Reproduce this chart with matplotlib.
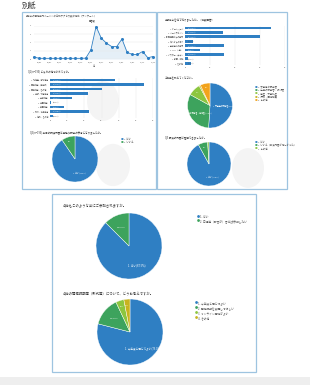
import numpy as np
import matplotlib.pyplot as plt
from matplotlib.patches import Rectangle, Circle

plt.rcParams['font.family'] = ['Noto Sans CJK JP', 'DejaVu Sans']

# ---- data ----
dates = ['10/01', '10/03', '10/05', '10/07', '10/09', '10/11', '10/13', '10/15',
         '10/17', '10/19', '10/21', '10/23', '10/25', '10/27', '10/29', '10/31',
         '11/02', '11/04', '11/06', '11/08', '11/10', '11/12', '11/14', '11/16']
daily = [0.25, 0.08, 0.08, 0.08, 0.08, 0.08, 0.08, 0.08, 0.08, 0.08, 0.1, 1.1,
         3.9, 2.5, 1.9, 1.5, 1.5, 2.4, 0.8, 0.55, 0.55, 0.9, 0.15, 0.3]

area_labels = ['1. 北海道・東北地方', '2. 関東地方（東京都）', '3. 関東地方（その他）',
               '4. 中部・北陸地方', '5. 近畿地方', '6. 中国地方', '7. 四国地方',
               '8. 九州・沖縄地方', '9. 海外・その他']
area_vals = [38, 55, 30, 22, 13, 0.6, 8, 23, 1.6]

know_labels = ['1. ホームページ', '2. メールマガジン', '3. 所属機関からの案内',
               '4. 知人からの紹介', '5. 学会等での案内', '6. SNS（X等）',
               '7. ポスター・チラシ', '8. 新聞・雑誌', '9. その他']
know_vals = [34.5, 15, 30, 3.3, 15.6, 6, 15.6, 1.3, 2.3]

q3_labels = ['1. はい', '2. いいえ']
q3_vals = [90.5, 9.5]

job_labels = ['1. 大学等の研究者', '2. 企業の研究者・技術者', '3. 学生・大学院生',
              '4. 行政・団体職員', '5. その他']
job_vals = [51, 32, 9, 1, 7]

q5_labels = ['1. はい', '2. いいえ（講演内容が難しかった）', '3. その他']
q5_vals = [92, 7, 1]

join_labels = ['1. はい', '2. 日程等（都合が）合えば参加したい']
join_vals = [87.5, 12.5]

plan_labels = ['1. 今年度と同じでよい', '2. 開催時期を変更してほしい',
               '3. オンライン開催がよい', '4. その他']
plan_vals = [79, 14, 4, 3]

blue = '#2f7fc3'
green = '#3da35d'
lime = '#8cc63f'
olive = '#c8b31e'
orange = '#f2a31b'
txt = '#555555'

W, H = 310, 385
fig = plt.figure(figsize=(W / 100, H / 100), dpi=100)
fig.patch.set_facecolor('white')


def ax_px(x0, y0, x1, y1):
    return fig.add_axes([x0 / W, 1 - y1 / H, (x1 - x0) / W, (y1 - y0) / H])


def ftext(x, y, s, **kw):
    fig.text(x / W, 1 - y / H, s, **kw)


def box(x0, y0, x1, y1):
    fig.add_artist(Rectangle((x0 / W, 1 - y1 / H), (x1 - x0) / W, (y1 - y0) / H,
                             transform=fig.transFigure, fill=False,
                             edgecolor='#9ec4e0', linewidth=0.9))


def ghost(cx, cy, r):
    # faint show-through circles from the back of the scanned page
    fig.add_artist(Circle((cx / W, 1 - cy / H), r / W, transform=fig.transFigure,
                          facecolor='#f4f4f4', edgecolor='none', zorder=-5))


def legend(x, y, dy, colors, labels, fs=1.7):
    for i, (c, l) in enumerate(zip(colors, labels)):
        ftext(x, y + i * dy, '●', color=c, fontsize=fs + 0.3, va='center')
        ftext(x + 3.2, y + i * dy, l, color=txt, fontsize=fs, va='center')


def pie(cx, cy, r, vals, colors, labels, fs=1.4):
    ax = ax_px(cx - r, cy - r, cx + r, cy + r)
    ax.set_facecolor('none')
    wedges, _ = ax.pie(vals, colors=colors, startangle=90, counterclock=False,
                       wedgeprops=dict(edgecolor='white', linewidth=0.3))
    ax.set_xlim(-1, 1)
    ax.set_ylim(-1, 1)
    ax.axis('off')
    tot = sum(vals)
    for w, v, l in zip(wedges, vals, labels):
        share = v / tot
        if share < 0.025:
            continue
        a = np.deg2rad((w.theta1 + w.theta2) / 2)
        if share > 0.3:
            rr, f, s = 0.62, fs, f'{l}({share * 100:.1f}%)'
        elif share > 0.1:
            rr, f, s = 0.62, fs * 0.9, f'{l[:2]}{share * 100:.1f}%'
        else:
            rr, f, s = 0.8, fs * 0.7, f'{share * 100:.1f}%'
        ax.text(rr * np.cos(a), rr * np.sin(a), s, color='white', fontsize=f,
                ha='center', va='center')
    return ax


# page header and background
ftext(22, 6, '別紙', fontsize=5.2, color='#333333', va='center')
fig.add_artist(Rectangle((0, 0), 1, 8 / H, transform=fig.transFigure,
                         facecolor='#eeeeee', edgecolor='none', zorder=-5))

ghost(103, 101, 16)
ghost(113, 165, 17)
ghost(248, 168, 16)

box(22, 12, 156, 189)
box(157, 12, 287, 189)
box(52, 194, 256, 372)

# ---- left panel: line chart ----
ftext(26, 16, '報告会の開催案内ページへの日別アクセス数の推移（アンケート）',
      fontsize=1.7, color=txt, va='center')
ftext(92, 20.5, '回答数', fontsize=1.7, color=txt, ha='center', va='center')
ax = ax_px(34, 25.7, 153, 59)
x = np.arange(len(daily))
ax.plot(x, daily, color=blue, linewidth=0.6, marker='o', markersize=1.2,
        clip_on=False)
ax.fill_between(x, daily, color=blue, alpha=0.12, linewidth=0)
ax.set_xlim(0, len(daily) - 1)
ax.set_ylim(0, 4)
ax.set_yticks([0, 1, 2, 3, 4])
ax.set_xticks(x[1::2])
ax.set_xticklabels(dates[1::2], fontsize=1.4, color=txt)
ax.tick_params(axis='y', labelsize=1.4, labelcolor=txt, length=0, pad=2)
ax.tick_params(axis='x', length=0, pad=1.5)
ax.grid(axis='y', color='#e6e6e6', linewidth=0.3)
for s in ax.spines.values():
    s.set_visible(False)
ax.set_facecolor('none')
ftext(94, 65.5, '日', fontsize=1.7, color=txt, ha='center', va='center')

# ---- left panel: bar chart ----
ftext(28, 71, 'Q1(n=190) どちらの地域からですか。', fontsize=1.8, color='#333333',
      va='center')
ax = ax_px(50, 77.75, 153, 118.25)
tot = sum(area_vals)
ax.barh(np.arange(len(area_vals)), area_vals, height=0.65, color=blue)
for i, v in enumerate(area_vals):
    ax.text(1.5, i, f'{v:.0f}({v / tot * 100:.1f}%)', color='white' if v > 5 else txt,
            fontsize=1.3, va='center')
ax.set_ylim(len(area_vals) - 0.5, -0.5)
ax.set_xlim(0, 60)
ax.set_yticks(np.arange(len(area_vals)))
ax.set_yticklabels(area_labels, fontsize=1.4, color=txt)
ax.set_xticks([0, 10, 20, 30, 40, 50, 60])
ax.tick_params(labelsize=1.4, labelcolor=txt, length=0, pad=1.5)
ax.grid(axis='x', color='#e6e6e6', linewidth=0.3)
ax.set_axisbelow(True)
for s in ax.spines.values():
    s.set_visible(False)
ax.set_facecolor('none')

# ---- left panel: pie ----
ftext(30, 132, 'Q3(n=190) 本日の講演内容は業務や研究の参考になりましたか。',
      fontsize=1.8, color='#333333', va='center')
pie(75, 159, 23, q3_vals, [blue, green], q3_labels)
legend(121, 139, 3.2, [blue, green], q3_labels)

# ---- right panel: bar chart ----
ftext(165, 20, '本報告会を何で知りましたか。（複数回答）', fontsize=1.8, color='#333333',
      va='center')
ax = ax_px(185, 25.8, 285, 65.4)
tot = sum(know_vals)
ax.barh(np.arange(len(know_vals)), know_vals, height=0.65, color=blue)
for i, v in enumerate(know_vals):
    ax.text(1.0, i, f'{v:.0f}({v / tot * 100:.1f}%)', color='white' if v > 5 else txt,
            fontsize=1.3, va='center')
ax.set_ylim(len(know_vals) - 0.5, -0.5)
ax.set_xlim(0, 40)
ax.set_yticks(np.arange(len(know_vals)))
ax.set_yticklabels(know_labels, fontsize=1.4, color=txt)
ax.set_xticks([0, 10, 20, 30, 40])
ax.tick_params(labelsize=1.4, labelcolor=txt, length=0, pad=1.5)
ax.grid(axis='x', color='#e6e6e6', linewidth=0.3)
ax.set_axisbelow(True)
for s in ax.spines.values():
    s.set_visible(False)
ax.set_facecolor('none')

# ---- right panel: pies ----
ftext(165, 78, 'ご職業を教えてください。', fontsize=1.8, color='#333333', va='center')
pie(210, 105.5, 22.5, job_vals, [blue, green, lime, olive, orange], job_labels)
legend(255, 87, 3.2, [blue, green, lime, olive, orange], job_labels)

ftext(165, 137, 'Q5 講演の内容は理解できましたか。', fontsize=1.8, color='#333333',
      va='center')
pie(209, 164, 22, q5_vals, [blue, green, lime], q5_labels)
legend(255, 142, 3.2, [blue, green, lime], q5_labels)

# ---- bottom panel ----
ftext(63, 206, '今後もこのような会にご参加されますか。', fontsize=2.4, color='#333333',
      va='center')
pie(129, 246, 33, join_vals, [blue, green], join_labels, fs=1.9)
legend(197, 217, 4.2, [blue, green], join_labels, fs=2.0)

ftext(63, 294, '今後の開催時期等（形式等）について、どうお考えですか。', fontsize=2.4,
      color='#333333', va='center')
pie(130, 332, 33, plan_vals, [blue, green, lime, olive], plan_labels, fs=1.9)
legend(195, 303, 5, [blue, green, lime, olive], plan_labels, fs=2.0)

fig.savefig('out.png', dpi=100)
